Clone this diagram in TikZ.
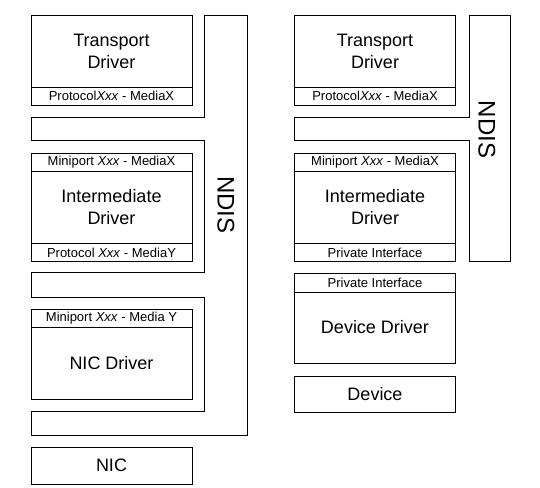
\documentclass[tikz,border=0pt]{standalone}
\usepackage{fontspec}
\setmainfont{Liberation Sans}
\usetikzlibrary{positioning}

\begin{document}
\begin{tikzpicture}[x=1pt,y=-1pt,line width=0.9pt,
  drvbox/.style={draw,minimum width=161pt,minimum height=72pt,align=center,
    inner sep=0pt,outer sep=0pt,font=\fontsize{18}{22}\selectfont},
  ifbar/.style={draw,minimum width=161pt,minimum height=18pt,inner sep=0pt,
    outer sep=0pt,font=\fontsize{13}{15}\selectfont},
  ndislabel/.style={rotate=-90,font=\fontsize{24}{28}\selectfont}
]
  \useasboundingbox (0,0) rectangle (540,487);
  % NDIS bands
  \draw (204,15) -- (247,15) -- (247,435) -- (31,435) -- (31,411) -- (204,411)
    -- (204,297) -- (31,297) -- (31,272) -- (204,272) -- (204,140) -- (31,140)
    -- (31,117) -- (204,117) -- cycle;
  \draw (469,15) -- (510,15) -- (510,261) -- (469,261) -- (469,140) -- (294,140)
    -- (294,117) -- (469,117) -- cycle;
  \node[ndislabel] (lndis) at (226,205) {NDIS};
  \node[ndislabel] (rndis) at (487,129.5) {NDIS};
  % Left stack
  \node[drvbox] (ltd) at (111.5,51) {Transport\\Driver};
  \node[ifbar,below=0pt of ltd] (ltdbar) {Protocol\textit{Xxx} - MediaX};
  \node[ifbar] (lidtop) at (111.5,162.5) {Miniport \textit{Xxx} - MediaX};
  \node[drvbox,below=0pt of lidtop] (lid) {Intermediate\\Driver};
  \node[ifbar,below=0pt of lid] (lidbot) {Protocol \textit{Xxx} - MediaY};
  \node[ifbar] (lnictop) at (111.5,318) {Miniport \textit{Xxx} - Media Y};
  \node[drvbox,below=0pt of lnictop] (lnic) {NIC Driver};
  \node[drvbox,minimum height=37pt] (card) at (111.5,465.5) {NIC};
  % Right stack
  \node[drvbox] (rtd) at (375,51) {Transport\\Driver};
  \node[ifbar,below=0pt of rtd] (rtdbar) {Protocol\textit{Xxx} - MediaX};
  \node[ifbar] (ridtop) at (375,162.5) {Miniport \textit{Xxx} - MediaX};
  \node[drvbox,below=0pt of ridtop] (rid) {Intermediate\\Driver};
  \node[ifbar,below=0pt of rid] (ridbot) {Private Interface};
  \node[ifbar,minimum height=19pt] (rddtop) at (375,282.5) {Private Interface};
  \node[drvbox,minimum height=71pt,below=0pt of rddtop] (rdd) {Device Driver};
  \node[drvbox,minimum height=36pt] (dev) at (375,394) {Device};
\end{tikzpicture}
\end{document}
